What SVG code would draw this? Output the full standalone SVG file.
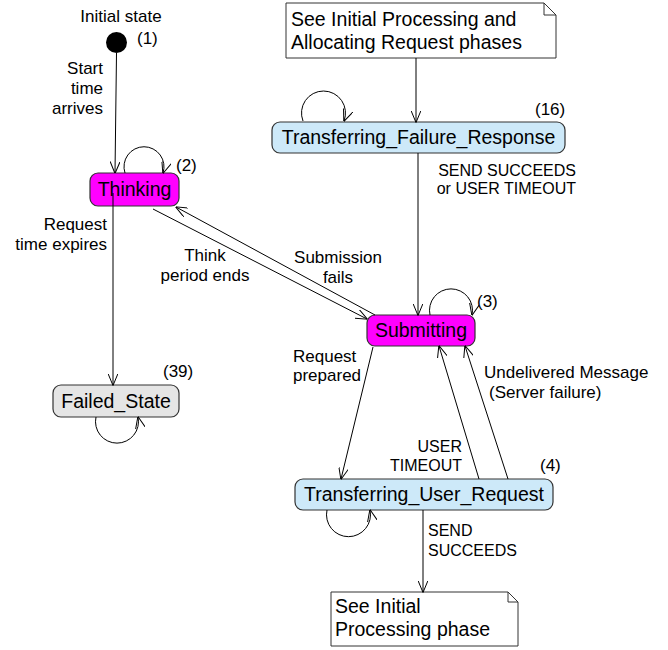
<svg xmlns="http://www.w3.org/2000/svg" width="668" height="650" viewBox="0 0 668 650">
<defs>
<marker id="arr" viewBox="0 0 12 10" refX="11.5" refY="5" markerWidth="12" markerHeight="10" markerUnits="userSpaceOnUse" orient="auto">
<path d="M0,0 L12,5 L0,10" fill="none" stroke="#000" stroke-width="1"/>
</marker>
<style>
text{font-family:"Liberation Sans",Arial,sans-serif;fill:#000}
.lbl{font-size:17px}
.cap{font-size:16px}
.node{font-size:19.5px;text-anchor:middle}
.note{font-size:19.5px}
.c{stroke:#000;stroke-width:1;fill:none;marker-end:url(#arr)}
.box{stroke:#333;stroke-width:1.2}
.mag{fill:#ff00ff}
.blue{fill:#cde9f9}
.gray{fill:#e5e5e5}
.nt{fill:#fff;stroke:#333;stroke-width:1}
</style>
</defs>
<rect width="668" height="650" fill="#fff"/>

<g id="initial">
<circle cx="116.5" cy="42.5" r="10.5" fill="#000"/>
<text class="lbl" x="121" y="22" text-anchor="middle">Initial state</text>
<text class="lbl" x="137" y="44">(1)</text>
</g>

<g id="note-top">
<path class="nt" d="M286,3 H544 L556,15 V58 H286 Z"/>
<path d="M544,3 V15 H556" fill="none" stroke="#333" stroke-width="1"/>
<text class="note" x="291" y="26">See Initial Processing and</text>
<text class="note" x="291" y="49">Allocating Request phases</text>
</g>

<g id="thinking">
<rect class="box mag" x="90" y="173" width="89" height="33" rx="8"/>
<text class="node" x="134.5" y="196">Thinking</text>
<text class="lbl" x="176" y="171">(2)</text>
</g>

<g id="tfr">
<rect class="box blue" x="272" y="122" width="293" height="31" rx="8"/>
<text class="node" x="418.5" y="144">Transferring_Failure_Response</text>
<text class="lbl" x="535" y="115">(16)</text>
</g>

<g id="submitting">
<rect class="box mag" x="367" y="315" width="108" height="31" rx="8"/>
<text class="node" x="421" y="337">Submitting</text>
<text class="lbl" x="477" y="307">(3)</text>
</g>

<g id="failed">
<rect class="box gray" x="53" y="385" width="126" height="32" rx="8"/>
<text class="node" x="116" y="408">Failed_State</text>
<text class="lbl" x="163" y="377">(39)</text>
</g>

<g id="tur">
<rect class="box blue" x="295" y="479" width="258" height="31" rx="8"/>
<text class="node" x="424" y="501">Transferring_User_Request</text>
<text class="lbl" x="540" y="471">(4)</text>
</g>

<g id="note-bottom">
<path class="nt" d="M331,592 H508 L518,602 V646 H331 Z"/>
<path d="M508,592 V602 H518" fill="none" stroke="#333" stroke-width="1"/>
<text class="note" x="335" y="613">See Initial</text>
<text class="note" x="335" y="636">Processing phase</text>
</g>

<g id="connectors">
<line class="c" x1="116.5" y1="53" x2="115" y2="173"/>
<path class="c" d="M125,173 A20,20 0 1 1 163,173"/>
<line class="c" x1="416" y1="58" x2="416" y2="122"/>
<path class="c" d="M303,121 A22,22 0 1 1 344,121"/>
<line class="c" x1="418" y1="153" x2="418" y2="315"/>
<path class="c" d="M430,315 A21.5,21.5 0 1 1 472,315"/>
<line class="c" x1="113" y1="193" x2="113" y2="385"/>
<path class="c" d="M96,417 A21.5,21.5 0 1 0 138,417"/>
<line class="c" x1="153" y1="209" x2="367" y2="319"/>
<line class="c" x1="375" y1="315" x2="176" y2="207"/>
<line class="c" x1="373" y1="347" x2="341" y2="479"/>
<line class="c" x1="479" y1="479" x2="439" y2="346"/>
<line class="c" x1="508" y1="479" x2="465" y2="346"/>
<path class="c" d="M327,510 A22,22 0 1 0 370,510"/>
<line class="c" x1="423" y1="510" x2="423" y2="592"/>
</g>

<g id="labels">
<text class="lbl" x="103" y="74" text-anchor="end">Start</text>
<text class="lbl" x="103" y="94" text-anchor="end">time</text>
<text class="lbl" x="103" y="114" text-anchor="end">arrives</text>
<text class="lbl" x="107" y="230" text-anchor="end">Request</text>
<text class="lbl" x="107" y="250" text-anchor="end">time expires</text>
<text class="lbl" x="205" y="261" text-anchor="middle">Think</text>
<text class="lbl" x="205" y="281" text-anchor="middle">period ends</text>
<text class="lbl" x="338" y="263" text-anchor="middle">Submission</text>
<text class="lbl" x="338" y="283" text-anchor="middle">fails</text>
<text class="cap" x="576" y="176" text-anchor="end">SEND SUCCEEDS</text>
<text class="cap" x="576" y="194" text-anchor="end">or USER TIMEOUT</text>
<text class="lbl" x="293" y="362">Request</text>
<text class="lbl" x="293" y="381">prepared</text>
<text class="cap" x="462" y="452" text-anchor="end">USER</text>
<text class="cap" x="462" y="471" text-anchor="end">TIMEOUT</text>
<text class="lbl" x="484" y="378">Undelivered Message</text>
<text class="lbl" x="489" y="398">(Server failure)</text>
<text class="cap" x="428" y="536">SEND</text>
<text class="cap" x="428" y="556">SUCCEEDS</text>
</g>
</svg>
